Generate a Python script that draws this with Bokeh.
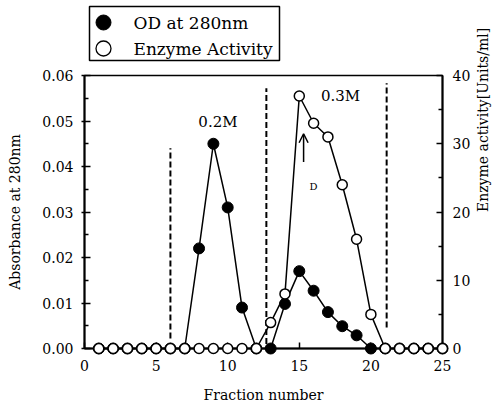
import math
from bokeh.plotting import figure
from bokeh.models import Range1d, LinearAxis, FixedTicker, PrintfTickFormatter, Arrow, OpenHead, Label
from bokeh.embed import file_html
from bokeh.resources import INLINE
from bokeh.core.properties import value

# ---------------- data ----------------
fraction = [1, 2, 3, 4, 5, 6, 7, 8, 9, 10, 11, 12, 13,
            14, 15, 16, 17, 18, 19, 20, 21, 22, 23, 24, 25]
od_280 = [0, 0, 0, 0, 0, 0, 0, 0.022, 0.045, 0.031, 0.009, 0, 0,
          0.0098, 0.017, 0.0127, 0.008, 0.0049, 0.0029, 0, 0, 0, 0, 0, 0]
enzyme_activity = [0, 0, 0, 0, 0, 0, 0, 0, 0, 0, 0, 0, 3.8,
                   8, 37, 33, 31, 24, 16, 5, 0, 0, 0, 0, 0]

x_ticks = [0, 5, 10, 15, 20, 25]
y_ticks = [0.0, 0.01, 0.02, 0.03, 0.04, 0.05, 0.06]
y_minor = [0.005, 0.015, 0.025, 0.035, 0.045, 0.055]
enz_ticks = [0, 10, 20, 30, 40]
enz_minor = [5, 15, 25, 35]

# salt step boundaries (fraction, top OD, bottom OD)
step_x = [6, 12.7, 21.1]
step_top = [0.044, 0.0572, 0.0583]
step_bottom = [0.0022, 0.001, 0.0046]

legend_labels = ["OD at 280nm", "Enzyme Activity"]

FONT = "DejaVu Serif"
FW, FH = 358, 273

p = figure(frame_width=FW, frame_height=FH,
           x_range=Range1d(0, 25), y_range=Range1d(0, 0.06),
           output_backend="svg", toolbar_location=None,
           min_border_left=84, min_border_right=50,
           min_border_top=75, min_border_bottom=58)
p.background_fill_color = "white"
p.border_fill_color = "white"
p.xgrid.visible = False
p.ygrid.visible = False
p.outline_line_color = "black"
p.outline_line_width = 1.5

p.extra_y_ranges = {"enz": Range1d(0, 40), "px": Range1d(0, FH)}
p.extra_x_ranges = {"px": Range1d(0, FW)}

def style_axis(ax):
    ax.axis_line_width = 2
    ax.axis_line_color = "black"
    ax.major_tick_line_width = 1.5
    ax.minor_tick_line_width = 1.5
    ax.major_label_text_font = FONT
    ax.major_label_text_font_size = "14px"
    ax.major_label_text_color = "black"
    ax.axis_label_text_font = FONT
    ax.axis_label_text_font_size = "14px"
    ax.axis_label_text_font_style = "normal"
    ax.axis_label_text_color = "black"

xa = p.xaxis[0]
style_axis(xa)
xa.ticker = FixedTicker(ticks=x_ticks)
xa.axis_label = "Fraction number"
xa.major_tick_in = 6
xa.major_tick_out = 0
xa.minor_tick_in = 0
xa.minor_tick_out = 0
xa.major_label_standoff = 11
xa.axis_label_standoff = 13

ya = p.yaxis[0]
style_axis(ya)
ya.ticker = FixedTicker(ticks=y_ticks, minor_ticks=y_minor)
ya.formatter = PrintfTickFormatter(format="%.2f")
ya.axis_label = "Absorbance at 280nm"
ya.major_tick_in = 6
ya.major_tick_out = 3
ya.minor_tick_in = 4
ya.minor_tick_out = 0
ya.major_label_standoff = 8
ya.axis_label_standoff = 16

ra = LinearAxis(y_range_name="enz", ticker=FixedTicker(ticks=enz_ticks, minor_ticks=enz_minor),
                axis_label="Enzyme activity[Units/ml]")
style_axis(ra)
ra.major_tick_in = 6
ra.major_tick_out = 0
ra.minor_tick_in = 4
ra.minor_tick_out = 0
ra.major_label_standoff = 10
ra.axis_label_standoff = 10
ra.axis_label_orientation = math.pi / 2
p.add_layout(ra, "right")

# dashed step boundaries
p.segment(x0=step_x, y0=step_bottom, x1=step_x, y1=step_top,
          line_color="black", line_width=2, line_dash="6 3")

# OD series (filled)
p.line(fraction, od_280, line_color="black", line_width=1.5, level="overlay")
p.scatter(fraction, od_280, size=11, fill_color="black", line_color="black", level="overlay")

# enzyme series (open)
p.line(fraction, enzyme_activity, y_range_name="enz", line_color="black", line_width=1.5, level="overlay")
p.scatter(fraction, enzyme_activity, y_range_name="enz", size=10, fill_color="white",
          line_color="black", line_width=1.5, level="overlay")

# annotations
for txt, x, y, fs in [("0.2M", 9.32, 0.0497, "15px"), ("0.3M", 17.88, 0.0554, "15px"), ("D", 16.0, 0.0355, "10px")]:
    p.add_layout(Label(x=x, y=y, text=txt, text_font=FONT, text_font_size=fs,
                       text_align="center", text_baseline="middle", text_color="black"))
p.add_layout(Arrow(end=OpenHead(size=9, line_width=1.5, line_color="black"),
                   x_start=15.3, y_start=0.041, x_end=15.3, y_end=0.0472,
                   line_width=1.5, line_color="black"))

# legend drawn above the frame (pixel space relative to frame)
p.quad(left=[5], right=[195], top=[342], bottom=[288], x_range_name="px", y_range_name="px",
       fill_color="white", line_color="black", line_width=1.5, level="overlay")
p.ellipse(x=[19], y=[326], width=15, height=15, width_units="screen", height_units="screen",
          x_range_name="px", y_range_name="px",
          fill_color="black", line_color="black", level="overlay")
p.ellipse(x=[19], y=[300], width=15, height=15, width_units="screen", height_units="screen",
          x_range_name="px", y_range_name="px",
          fill_color="white", line_color="black", line_width=1.3, level="overlay")
p.text(x=[49, 49], y=[326, 300], text=legend_labels, x_range_name="px", y_range_name="px",
       text_font=value(FONT), text_font_size="17px", text_baseline="middle",
       text_color="black", level="overlay")

open("out.html", "w").write(file_html(p, INLINE))
